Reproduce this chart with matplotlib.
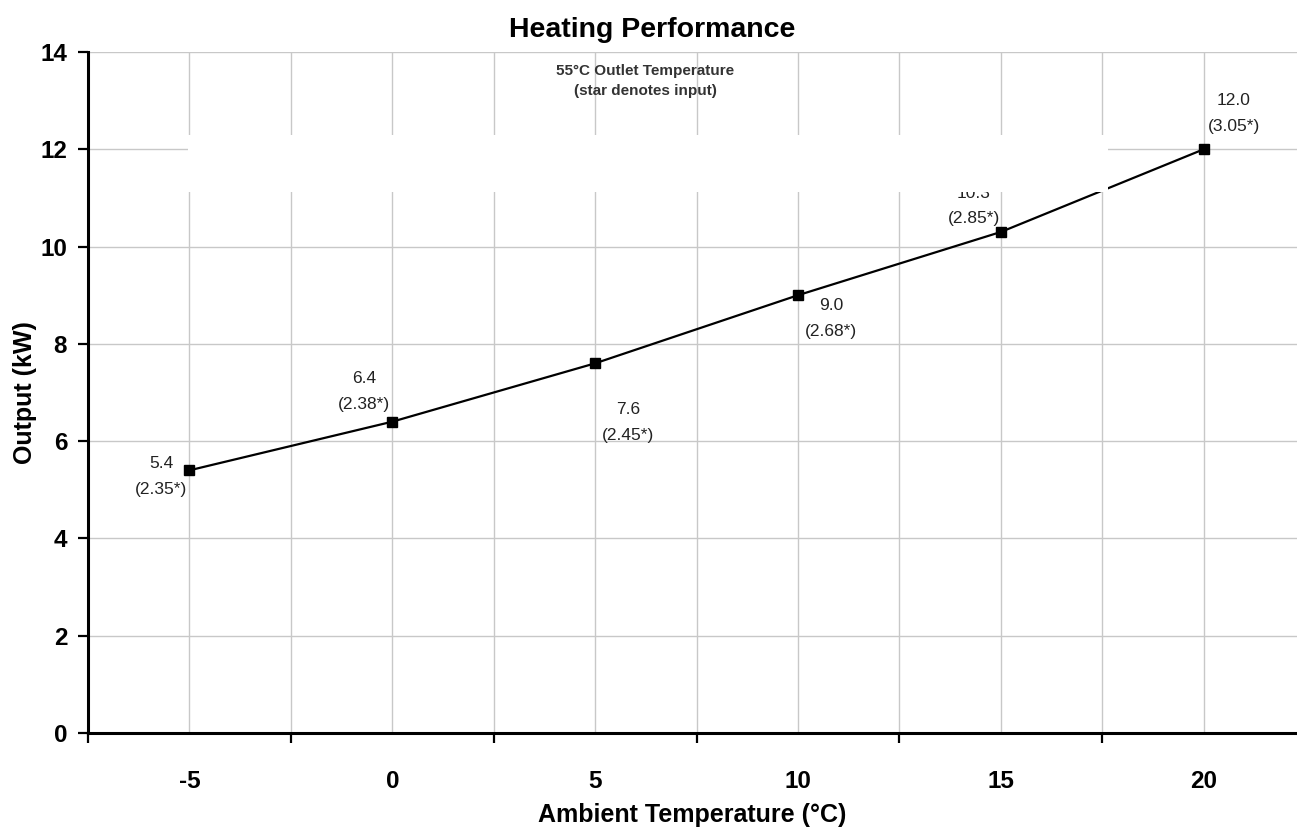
import matplotlib
matplotlib.use('Agg')
import matplotlib.pyplot as plt
from matplotlib.patches import Rectangle
from matplotlib.ticker import MultipleLocator

plt.rcParams['axes.unicode_minus'] = False

ambient = [-5, 0, 5, 10, 15, 20]
output_kw = [5.4, 6.4, 7.6, 9.0, 10.3, 12.0]
input_kw = ['2.35', '2.38', '2.45', '2.68', '2.85', '3.05']
# label offsets in pixels from each point
offsets = [(-28, -6), (-28, 30), (33, -59), (33, -23), (-27, 26), (30, 36)]

font = ['Liberation Sans', 'DejaVu Sans']

fig = plt.figure(figsize=(12.97, 8.36), dpi=100)
ax = fig.add_axes([88 / 1297, 103 / 836, 1 - 88 / 1297, (733 - 52) / 836])

ax.plot(ambient, output_kw, color='black', linewidth=1.6, marker='s',
        markersize=7, zorder=3)

for x, y, inp, (dx, dy) in zip(ambient, output_kw, input_kw, offsets):
  ax.annotate(f'{y:.1f}\n({inp}*)', (x, y), xytext=(dx, dy),
              textcoords='offset pixels', ha='center', va='center',
              fontsize=12.5, linespacing=1.9, color='#222222', family=font)

ax.set_xlim(-7.5, 22.3)
ax.set_ylim(0, 14)
ax.xaxis.set_major_locator(MultipleLocator(5))
ax.xaxis.set_minor_locator(MultipleLocator(5, offset=2.5))
ax.yaxis.set_major_locator(MultipleLocator(2))

ax.grid(True, which='both', color='#c8c8c8', linewidth=1)
ax.set_axisbelow(True)

for side in ['top', 'right']:
  ax.spines[side].set_visible(False)
for side in ['left', 'bottom']:
  ax.spines[side].set_linewidth(2.2)

ax.tick_params(axis='x', which='major', length=0, pad=27)
ax.tick_params(axis='x', which='minor', length=7, width=1.6, direction='out')
ax.tick_params(axis='y', length=7, width=1.6, pad=8)

for lbl in ax.get_xticklabels() + ax.get_yticklabels():
  lbl.set_family(font)
  lbl.set_fontweight('bold')
  lbl.set_fontsize(17.5)

ax.set_xlabel('Ambient Temperature (°C)', fontsize=18, fontweight='bold',
              family=font)
ax.set_ylabel('Output (kW)', fontsize=18, fontweight='bold', family=font)
ax.xaxis.set_label_coords(0.5, -82 / 681)
ax.xaxis.label.set_va('center')
ax.yaxis.set_label_coords(-63 / 1209, 0.5)
ax.yaxis.label.set_va('center')

fig.text(652 / 1297, 1 - 30 / 836, 'Heating Performance', ha='center',
         va='center', fontsize=20.5, fontweight='bold', family=font)
fig.text(645 / 1297, 1 - 81 / 836, '55°C Outlet Temperature\n(star denotes input)',
         ha='center', va='center', fontsize=11, fontweight='bold',
         family=font, color='#333333', linespacing=1.6)

# blank panel covering part of the chart
fig.patches.append(Rectangle((188 / 1297, 1 - 192 / 836), 920 / 1297, 57 / 836,
                             transform=fig.transFigure, facecolor='white',
                             edgecolor='none', zorder=10))

fig.savefig('out.png', dpi=100)
